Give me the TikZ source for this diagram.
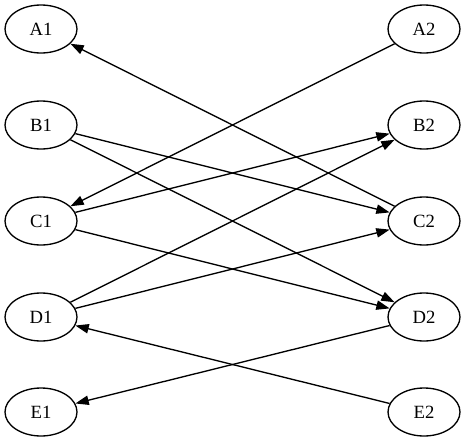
\documentclass[tikz,border=0pt]{standalone}
\usepackage{fontspec}
\setmainfont{Liberation Serif}
\usetikzlibrary{shapes.geometric,arrows.meta}
\begin{document}
\begin{tikzpicture}[x=0.75pt,y=-0.75pt,
  gnode/.style={draw,ellipse,line width=1pt,minimum width=54pt,minimum height=36pt,inner sep=0pt,font=\fontsize{14pt}{16pt}\selectfont},
  gedge/.style={line width=1pt,-{Triangle[length=10pt,width=7pt]}}]
\useasboundingbox (0,0) rectangle (467,443);
\node[gnode] (A1) at (41,29) {A1};
\node[gnode] (B1) at (41,125) {B1};
\node[gnode] (C1) at (41,221) {C1};
\node[gnode] (D1) at (41,317) {D1};
\node[gnode] (E1) at (41,412) {E1};
\node[gnode] (A2) at (424,29) {A2};
\node[gnode] (B2) at (424,125) {B2};
\node[gnode] (C2) at (424,221) {C2};
\node[gnode] (D2) at (424,317) {D2};
\node[gnode] (E2) at (424,412) {E2};
\draw[gedge] (C2) -- (A1);
\draw[gedge] (A2) -- (C1);
\draw[gedge] (B1) -- (C2);
\draw[gedge] (B1) -- (D2);
\draw[gedge] (C1) -- (B2);
\draw[gedge] (C1) -- (D2);
\draw[gedge] (D1) -- (B2);
\draw[gedge] (D1) -- (C2);
\draw[gedge] (D2) -- (E1);
\draw[gedge] (E2) -- (D1);
\end{tikzpicture}
\end{document}
